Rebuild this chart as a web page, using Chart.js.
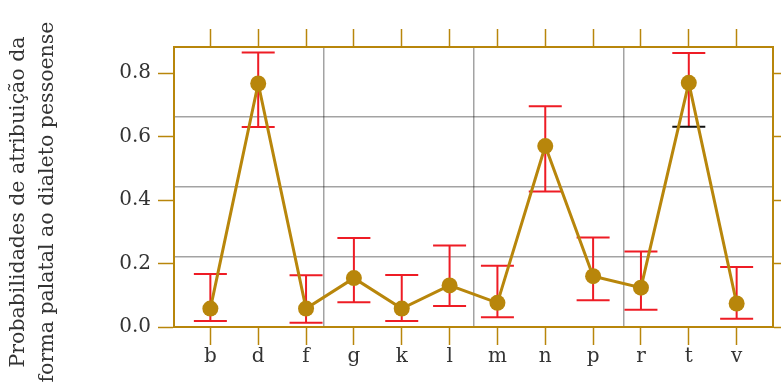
<!DOCTYPE html>
<html lang="pt">
<head>
    <meta charset="UTF-8">
    <title>Probabilidades</title>
    <script src="https://cdn.jsdelivr.net/npm/chart.js"></script>
    <style>
        body { margin: 0; background: #fff; }
    </style>
</head>
<body>
    <canvas id="grafico" width="781" height="391"></canvas>
    <script>
    // dados
    const categorias = ['b', 'd', 'f', 'g', 'k', 'l', 'm', 'n', 'p', 'r', 't', 'v'];
    const probs    = [0.058, 0.767, 0.058, 0.154, 0.058, 0.131, 0.076, 0.570, 0.160, 0.124, 0.769, 0.074];
    const inferior = [0.019, 0.630, 0.013, 0.078, 0.019, 0.066, 0.031, 0.427, 0.084, 0.054, 0.631, 0.026];
    const superior = [0.167, 0.865, 0.163, 0.280, 0.164, 0.257, 0.193, 0.695, 0.282, 0.238, 0.863, 0.189];
    const yTicks = [0, 0.2, 0.4, 0.6, 0.8];
    const tituloY = ['Probabilidades de atribuição da', 'forma palatal ao dialeto pessoense'];

    const ouro = '#B8860B';
    const vermelho = '#ee1c25';
    const fonte = '"DejaVu Serif", serif';

    // barras de erro, desenhadas antes dos pontos
    const barrasErro = {
        id: 'barrasErro',
        beforeDatasetsDraw(chart) {
            const ctx = chart.ctx;
            const xs = chart.scales.x, ys = chart.scales.y;
            ctx.save();
            ctx.lineWidth = 2;
            categorias.forEach(function(c, i) {
                const px = xs.getPixelForValue(i);
                const y1 = ys.getPixelForValue(inferior[i]);
                const y2 = ys.getPixelForValue(superior[i]);
                ctx.strokeStyle = vermelho;
                ctx.beginPath();
                ctx.moveTo(px, y1); ctx.lineTo(px, y2);
                ctx.moveTo(px - 16.5, y2); ctx.lineTo(px + 16.5, y2);
                ctx.stroke();
                // o limite inferior de "t" aparece em preto
                ctx.strokeStyle = c === 't' ? '#111' : vermelho;
                ctx.beginPath();
                ctx.moveTo(px - 16.5, y1); ctx.lineTo(px + 16.5, y1);
                ctx.stroke();
            });
            ctx.restore();
        }
    };

    const tituloEixo = {
        id: 'tituloEixo',
        afterDraw(chart) {
            const ctx = chart.ctx;
            ctx.save();
            ctx.translate(0, 202);
            ctx.rotate(-Math.PI / 2);
            ctx.fillStyle = '#333';
            ctx.font = '20.5px ' + fonte;
            ctx.textAlign = 'center';
            ctx.textBaseline = 'middle';
            ctx.fillText(tituloY[0], 0, 18.5);
            ctx.fillText(tituloY[1], 0, 47.5);
            ctx.restore();
        }
    };

    const gradeCor = function(c) {
        return (c.tick.value === 0 || c.tick.value === 4) ? 'rgba(0,0,0,0)' : 'rgba(0,0,0,0.36)';
    };

    const pontos = categorias.map((c, i) => ({ x: i, y: probs[i] }));

    new Chart(document.getElementById('grafico'), {
        type: 'line',
        data: {
            datasets: [{
                data: pontos,
                borderColor: ouro,
                backgroundColor: ouro,
                borderWidth: 3,
                pointRadius: 8,
                pointHoverRadius: 8,
                pointBorderWidth: 0,
                tension: 0
            }]
        },
        options: {
            responsive: false,
            animation: false,
            layout: { padding: 0 },
            plugins: { legend: { display: false }, tooltip: { enabled: false } },
            scales: {
                x: {
                    type: 'linear', position: 'bottom', min: -0.76, max: 11.76,
                    afterBuildTicks: s => { s.ticks = categorias.map((c, i) => ({ value: i })); },
                    afterFit: s => { s.height = 64; },
                    ticks: { callback: v => categorias[v], color: '#333', font: { family: fonte, size: 20 }, padding: 0, maxRotation: 0, autoSkip: false },
                    grid: { drawOnChartArea: false, tickColor: ouro, tickLength: 18, tickWidth: 1.5 },
                    border: { color: ouro, width: 2 }
                },
                x2: {
                    type: 'linear', position: 'top', min: -0.76, max: 11.76,
                    afterBuildTicks: s => { s.ticks = categorias.map((c, i) => ({ value: i })); },
                    afterFit: s => { s.height = 47; },
                    ticks: { display: false },
                    grid: { drawOnChartArea: false, tickColor: ouro, tickLength: 18, tickWidth: 1.5 },
                    border: { color: ouro, width: 2 }
                },
                y: {
                    type: 'linear', position: 'left', min: 0, max: 0.882,
                    afterBuildTicks: s => { s.ticks = yTicks.map(v => ({ value: v })); },
                    afterFit: s => { s.width = 174; },
                    ticks: { callback: v => v.toFixed(1), color: '#333', font: { family: fonte, size: 20 }, padding: 7 },
                    grid: { drawOnChartArea: false, tickColor: ouro, tickLength: 16, tickWidth: 1.5 },
                    border: { color: ouro, width: 2 }
                },
                y2: {
                    type: 'linear', position: 'right', min: 0, max: 0.882,
                    afterBuildTicks: s => { s.ticks = yTicks.map(v => ({ value: v })); },
                    afterFit: s => { s.width = 8; },
                    ticks: { display: false },
                    grid: { drawOnChartArea: false, tickColor: ouro, tickLength: 16, tickWidth: 1.5 },
                    border: { color: ouro, width: 2 }
                },
                gx: {
                    type: 'linear', position: 'bottom', min: 0, max: 4,
                    afterBuildTicks: s => { s.ticks = [0, 1, 2, 3, 4].map(v => ({ value: v })); },
                    afterFit: s => { s.height = 0; },
                    ticks: { display: false },
                    grid: { color: gradeCor, lineWidth: 1.5, drawTicks: false },
                    border: { display: false }
                },
                gy: {
                    type: 'linear', position: 'left', min: 0, max: 4,
                    afterBuildTicks: s => { s.ticks = [0, 1, 2, 3, 4].map(v => ({ value: v })); },
                    afterFit: s => { s.width = 0; },
                    ticks: { display: false },
                    grid: { color: gradeCor, lineWidth: 1.5, drawTicks: false },
                    border: { display: false }
                }
            }
        },
        plugins: [barrasErro, tituloEixo]
    });
    </script>
</body>
</html>
